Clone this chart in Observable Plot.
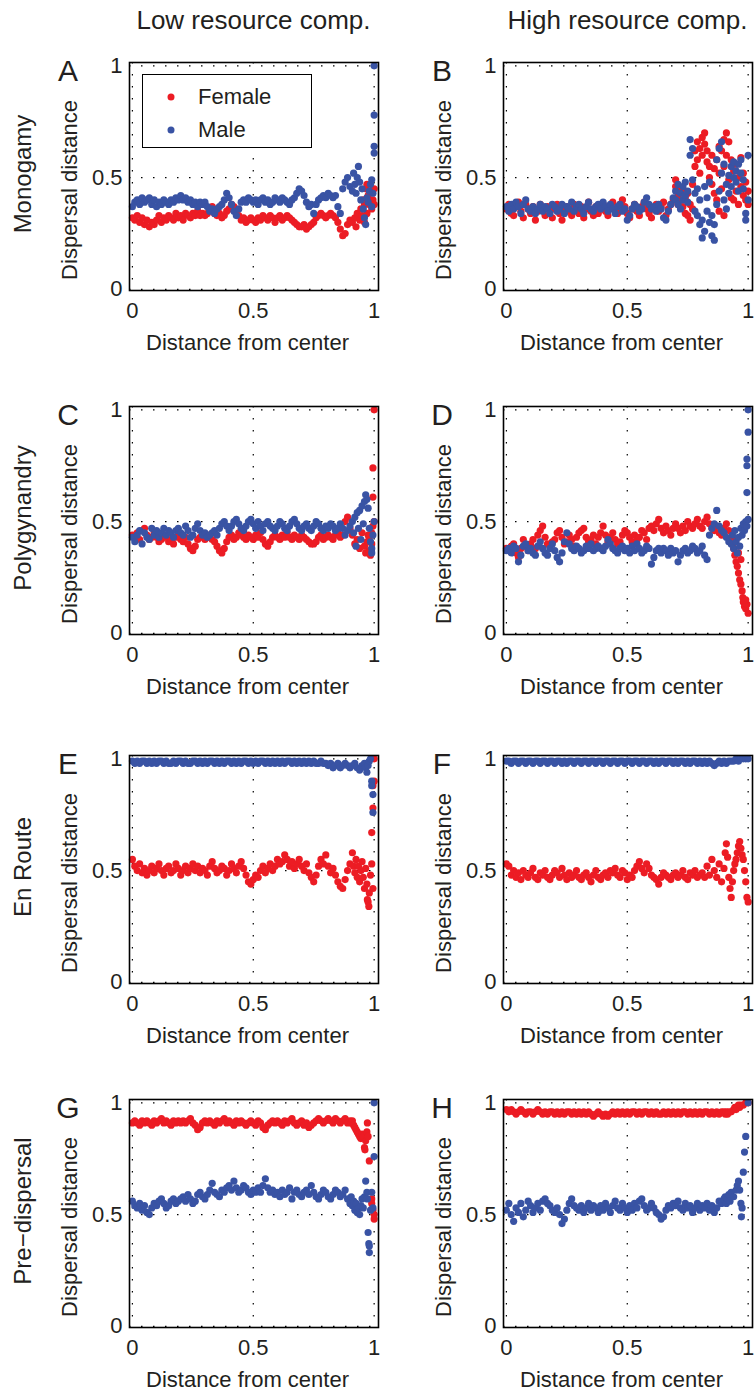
<!DOCTYPE html>
<html><head><meta charset="utf-8">
<script src="https://cdn.jsdelivr.net/npm/d3@7"></script>
<script src="https://cdn.jsdelivr.net/npm/@observablehq/plot@0.6"></script>
<style>
body{margin:0;background:#fff;}
#fig{position:relative;width:756px;height:1392px;overflow:hidden;font-family:"Liberation Sans",Arial,Helvetica,sans-serif;color:#231f20;background:#fff;}
.lbl{position:absolute;white-space:nowrap;line-height:1;transform:translate(-50%,-50%);}
.rot{transform:translate(-50%,-50%) rotate(-90deg);}
.legend{position:absolute;border:1px solid #000;background:#fff;box-sizing:border-box;}
.legend .dot{position:absolute;width:7px;height:7px;border-radius:50%;transform:translate(-50%,-50%);}
.legend .txt{position:absolute;font-size:22px;line-height:1;transform:translateY(-50%);}
</style></head><body><div id="fig"></div>
<script>
// ---------- DATA ----------
const colTitles = ["Low resource comp.", "High resource comp."];
const rowNames = ["Monogamy", "Polygynandry", "En Route", "Pre\u2212dispersal"];
const panelLetters = ["A","B","C","D","E","F","G","H"];
const seriesNames = ["Female", "Male"];
const xTicks = [0, 0.5, 1];
const yTicks = [0, 0.5, 1];
const xLabel = "Distance from center";
const yLabel = "Dispersal distance";

// distance from center for the dense part of each series
const distanceGrid = [0,0.01,0.02,0.03,0.04,0.05,0.06,0.07,0.08,0.09,
0.1,0.11,0.12,0.13,0.14,0.15,0.16,0.17,0.18,0.19,
0.2,0.21,0.22,0.23,0.24,0.25,0.26,0.27,0.28,0.29,
0.3,0.31,0.32,0.33,0.34,0.35,0.36,0.37,0.38,0.39,
0.4,0.41,0.42,0.43,0.44,0.45,0.46,0.47,0.48,0.49,
0.5,0.51,0.52,0.53,0.54,0.55,0.56,0.57,0.58,0.59,
0.6,0.61,0.62,0.63,0.64,0.65,0.66,0.67,0.68,0.69,
0.7,0.71,0.72,0.73,0.74,0.75,0.76,0.77,0.78,0.79,
0.8,0.81,0.82,0.83,0.84,0.85,0.86,0.87,0.88,0.89,0.9];

// dispersal distance (hundredths) on distanceGrid, plus [x, y] edge points
// A: Monogamy, low resource competition
const femaleA = [32,31,33,30,32,29,31,28,30,29, 31,33,30,32,31,33,32,31,34,32, 33,31,34,33,32,34,33,35,33,34, 33,34,36,37,34,33,34,32,33,35, 36,38,37,35,33,31,32,30,31,32, 31,30,32,31,33,32,31,33,32,30, 32,33,31,32,33,32,31,30,29,28, 28,29,27,28,29,30,32,33,34,33, 32,33,34,33,32,30,27,24,25,29, 31];
const maleA = [37,39,40,38,41,39,40,41,38,40, 37,39,38,40,39,38,40,39,41,40, 42,40,41,39,40,38,39,37,39,38, 39,37,35,36,34,36,37,38,40,43, 41,38,35,33,36,39,40,39,41,40, 39,40,38,40,41,39,40,38,39,41, 40,39,41,40,39,38,40,41,43,45, 44,42,39,37,38,34,38,40,41,42, 41,43,42,41,42,37,34,45,48,50, 46];
const femaleEdgeA = [[0.91,0.30],[0.92,0.32],[0.925,0.28],[0.93,0.34],[0.94,0.31],[0.945,0.36],[0.95,0.33],[0.955,0.40],[0.96,0.38],[0.965,0.45],[0.97,0.47],[0.975,0.42],[0.98,0.38],[0.985,0.44],[0.99,0.36],[0.995,0.40],[1.0,0.45],[1.0,0.38],[0.97,0.34],[0.96,0.30]];
const maleEdgeA = [[0.91,0.44],[0.915,0.52],[0.92,0.47],[0.925,0.43],[0.93,0.50],[0.935,0.55],[0.94,0.48],[0.945,0.40],[0.95,0.45],[0.955,0.36],[0.96,0.32],[0.965,0.29],[0.97,0.41],[0.975,0.39],[0.98,0.44],[0.985,0.47],[0.99,0.49],[0.995,0.43],[1.0,1.0],[1.0,0.78],[1.0,0.64],[1.0,0.61],[0.99,0.37]];

// B: Monogamy, high resource competition
const femaleB = [36,38,34,33,37,39,35,32,38,36, 34,37,31,35,38,36,33,37,35,32, 36,38,34,31,36,37,35,33,38,36, 34,37,32,36,39,35,33,37,34,36, 38,35,33,37,39,36,34,38,40,37, 34,32,36,38,35,33,37,39,36,34, 32,36,38,35,37,39,33,36,38,40];
const maleB = [37,35,38,36,39,37,34,38,40,36, 35,37,34,36,38,35,37,36,34,38, 37,35,36,38,34,37,36,39,35,37, 38,36,34,37,39,36,35,37,38,36, 39,37,35,38,36,34,37,38,35,36, 31,33,36,38,37,35,36,39,41,38, 36,37,35,38,36,32,31,35,38,41];
const femaleEdgeB = [[0.70,0.46],[0.70,0.49],[0.71,0.42],[0.71,0.38],[0.72,0.44],[0.72,0.40],[0.73,0.37],[0.73,0.45],[0.74,0.41],[0.74,0.34],[0.75,0.43],[0.75,0.33],[0.76,0.38],[0.76,0.31],[0.77,0.47],[0.77,0.36],[0.78,0.55],[0.78,0.62],[0.79,0.66],[0.79,0.58],[0.80,0.63],[0.80,0.52],[0.81,0.68],[0.81,0.60],[0.82,0.70],[0.82,0.65],[0.83,0.57],[0.83,0.62],[0.84,0.55],[0.84,0.50],[0.85,0.60],[0.85,0.47],[0.86,0.54],[0.86,0.43],[0.87,0.58],[0.87,0.40],[0.88,0.52],[0.88,0.64],[0.88,0.35],[0.89,0.62],[0.89,0.45],[0.90,0.67],[0.90,0.55],[0.90,0.33],[0.91,0.70],[0.91,0.60],[0.92,0.66],[0.92,0.49],[0.93,0.58],[0.93,0.41],[0.94,0.53],[0.94,0.40],[0.95,0.56],[0.95,0.44],[0.96,0.50],[0.96,0.38],[0.97,0.59],[0.97,0.46],[0.98,0.42],[0.98,0.52],[0.99,0.40],[0.99,0.48],[1.00,0.44],[1.00,0.38]];
const maleEdgeB = [[0.70,0.40],[0.70,0.44],[0.71,0.38],[0.71,0.47],[0.72,0.43],[0.72,0.36],[0.73,0.46],[0.73,0.40],[0.74,0.48],[0.74,0.42],[0.75,0.44],[0.75,0.39],[0.76,0.67],[0.76,0.60],[0.77,0.63],[0.77,0.49],[0.78,0.43],[0.78,0.35],[0.79,0.33],[0.79,0.45],[0.80,0.29],[0.80,0.40],[0.81,0.23],[0.81,0.31],[0.82,0.46],[0.82,0.26],[0.83,0.41],[0.83,0.35],[0.84,0.30],[0.84,0.48],[0.85,0.24],[0.85,0.33],[0.86,0.22],[0.86,0.29],[0.87,0.38],[0.87,0.58],[0.88,0.63],[0.88,0.44],[0.89,0.66],[0.89,0.52],[0.90,0.56],[0.90,0.40],[0.91,0.47],[0.91,0.36],[0.92,0.51],[0.92,0.43],[0.93,0.55],[0.93,0.46],[0.94,0.50],[0.94,0.57],[0.95,0.53],[0.95,0.48],[0.96,0.56],[0.96,0.44],[0.97,0.52],[0.97,0.58],[0.98,0.49],[0.98,0.45],[0.99,0.34],[0.99,0.31],[1.00,0.60],[1.00,0.40]];

// C: Polygynandry, low resource competition
const femaleC = [44,43,45,42,46,47,44,42,43,45, 43,41,42,44,43,41,42,40,43,44, 42,41,43,40,38,37,39,42,43,44, 42,43,44,42,41,39,37,36,38,41, 43,44,42,43,45,44,43,42,44,43, 42,44,43,45,42,40,39,41,43,44, 43,42,44,43,45,43,42,44,43,42, 44,43,42,41,40,40,41,43,44,42, 43,44,43,42,44,45,43,44,50,52, 47];
const maleC = [43,41,44,46,40,45,43,42,47,44, 46,43,45,47,44,46,45,43,46,47, 45,44,48,46,43,44,47,49,46,44, 45,43,44,45,46,44,47,49,50,48, 46,48,50,51,49,47,46,48,50,51, 49,47,50,48,46,49,50,48,47,46, 48,50,49,47,46,48,50,51,49,47, 46,48,49,47,46,48,50,49,47,46, 48,47,49,48,46,47,49,47,44,46, 48];
const femaleEdgeC = [[0.91,0.44],[0.92,0.40],[0.93,0.42],[0.94,0.38],[0.95,0.45],[0.96,0.39],[0.965,0.36],[0.97,0.41],[0.975,0.44],[0.98,0.37],[0.985,0.35],[0.99,0.40],[0.995,0.48],[1.0,1.0],[0.995,0.74],[0.995,0.61],[1.0,0.50],[0.99,0.45],[0.98,0.43]];
const maleEdgeC = [[0.91,0.50],[0.915,0.45],[0.92,0.52],[0.925,0.39],[0.93,0.54],[0.935,0.47],[0.94,0.55],[0.945,0.42],[0.95,0.57],[0.955,0.49],[0.96,0.59],[0.965,0.62],[0.97,0.60],[0.975,0.56],[0.98,0.47],[0.985,0.41],[0.99,0.38],[0.99,0.36],[0.995,0.44],[1.0,0.50]];

// D: Polygynandry, high resource competition
const femaleD = [38,37,39,40,36,34,38,42,39,37, 40,42,38,44,46,48,43,40,39,41, 42,45,46,43,40,41,44,42,39,43, 45,46,47,43,41,42,44,40,43,45, 48,44,41,43,45,42,40,41,44,46, 45,43,41,44,42,43,46,45,42,47, 48,46,49,51,47,45,48,46,44,47, 49,47,45,48,46,50,48,47,49,51, 48,47,50,52,49,47,46,48,45,44, 47];
const maleD = [37,38,36,39,38,32,35,39,40,37, 38,36,35,39,41,38,36,35,38,40, 37,34,32,36,41,45,40,38,37,39, 38,36,37,39,38,40,37,38,39,38, 37,39,42,40,38,37,36,38,39,37, 38,36,39,37,40,38,36,37,39,38, 31,34,37,38,36,38,37,35,38,36, 37,32,35,37,38,36,37,39,38,36, 37,39,35,33,44,47,49,55,48,46, 45];
const femaleEdgeD = [[0.91,0.49],[0.92,0.46],[0.93,0.43],[0.935,0.40],[0.94,0.38],[0.945,0.35],[0.95,0.32],[0.955,0.30],[0.96,0.27],[0.965,0.24],[0.97,0.22],[0.975,0.19],[0.978,0.16],[0.98,0.14],[0.985,0.12],[0.99,0.11],[0.995,0.13],[1.0,0.09],[0.99,0.15],[0.96,0.36],[0.95,0.42],[0.97,0.33]];
const maleEdgeD = [[0.91,0.43],[0.92,0.41],[0.93,0.40],[0.935,0.44],[0.94,0.38],[0.945,0.46],[0.95,0.41],[0.955,0.36],[0.96,0.43],[0.965,0.39],[0.97,0.47],[0.975,0.44],[0.98,0.49],[0.985,0.46],[0.99,0.50],[0.995,0.48],[1.0,1.0],[1.0,0.90],[0.995,0.78],[0.995,0.75],[0.995,0.63],[1.0,0.51]];

// E: En Route, low resource competition
const femaleE = [55,52,50,53,49,51,48,50,52,49, 51,53,50,48,51,52,49,50,53,51, 48,50,52,49,51,53,50,52,49,51, 50,48,52,54,51,49,50,52,51,48, 50,53,51,49,52,54,51,48,45,44, 46,48,47,50,52,49,51,53,50,52, 55,53,54,57,55,52,54,51,53,55, 52,50,53,49,47,45,48,52,55,53, 57,52,49,51,48,45,43,42,46,50, 53];
const maleE = [99,98,99,98,99,99,98,99,98,99, 98,99,99,98,99,98,98,99,98,99, 99,98,99,98,98,99,99,98,99,98, 99,98,99,99,98,99,98,99,98,99, 99,98,99,98,99,98,99,99,98,99, 98,99,98,99,99,98,99,98,99,98, 99,98,99,98,99,99,98,99,98,99, 98,99,98,99,98,99,98,98,99,98, 98,97,98,96,97,98,96,97,98,97, 96];
const femaleEdgeE = [[0.91,0.58],[0.915,0.52],[0.92,0.49],[0.925,0.55],[0.93,0.47],[0.935,0.52],[0.94,0.45],[0.945,0.50],[0.95,0.54],[0.955,0.47],[0.96,0.42],[0.965,0.51],[0.97,0.44],[0.972,0.37],[0.975,0.36],[0.978,0.34],[0.98,0.40],[0.985,0.48],[0.99,0.53],[0.995,0.42],[1.0,1.0],[1.0,0.90],[0.995,0.88],[0.995,0.78],[0.99,0.67]];
const maleEdgeE = [[0.91,0.97],[0.92,0.98],[0.93,0.96],[0.94,0.95],[0.95,0.97],[0.96,0.98],[0.965,0.96],[0.97,0.94],[0.975,0.97],[0.98,0.99],[0.985,1.0],[0.99,0.90],[0.99,0.88],[0.995,0.84],[0.995,0.76]];

// F: En Route, high resource competition
const femaleF = [53,52,48,50,47,49,46,50,48,47, 49,51,47,46,49,48,50,47,46,48, 50,49,47,51,48,46,49,47,48,50, 47,46,48,49,47,45,48,50,47,46, 48,49,47,50,49,51,48,47,50,49, 46,48,47,50,52,54,51,49,53,51, 48,47,46,44,47,49,48,47,46,48, 49,47,48,50,47,46,49,48,50,47, 48,49,47,52,48,55,50,47,53,45, 51];
const maleF = [99,99,98,99,99,98,99,99,98,99, 99,98,99,99,98,99,99,98,99,99, 98,99,99,98,99,98,99,99,98,99, 99,98,99,99,98,99,99,98,99,99, 98,99,99,98,99,99,98,99,99,98, 99,99,98,99,99,98,99,99,98,99, 99,98,99,98,99,99,98,99,99,98, 99,98,99,99,98,99,98,99,99,98, 99,98,99,98,99,98,97,98,99,98, 99];
const femaleEdgeF = [[0.905,0.58],[0.91,0.62],[0.915,0.56],[0.92,0.47],[0.925,0.42],[0.93,0.38],[0.935,0.45],[0.94,0.50],[0.945,0.53],[0.95,0.55],[0.955,0.58],[0.96,0.61],[0.965,0.63],[0.97,0.60],[0.975,0.57],[0.98,0.55],[0.985,0.50],[0.99,0.45],[0.995,0.38],[1.0,0.36]];
const maleEdgeF = [[0.91,0.98],[0.92,0.99],[0.93,0.99],[0.94,0.99],[0.95,1.0],[0.96,0.99],[0.97,1.0],[0.98,1.0],[0.99,1.0],[1.0,1.0]];

// G: Pre-dispersal, low resource competition
const femaleG = [91,92,91,90,92,91,92,91,90,92, 91,92,93,91,92,91,90,92,91,92, 91,92,91,92,93,91,90,88,89,91, 92,91,92,91,90,92,91,92,93,91, 92,91,90,92,91,92,91,90,91,92, 91,90,92,91,89,88,90,91,92,91, 92,91,90,92,91,92,93,91,90,91, 92,90,91,89,90,91,92,93,92,91, 92,93,92,91,93,92,91,92,93,91, 92];
const maleG = [56,54,53,55,52,54,51,50,53,55, 54,56,57,55,53,54,56,57,55,56, 57,58,56,59,57,55,56,59,60,58, 57,59,61,64,60,59,58,61,60,62, 63,61,65,62,60,61,63,62,60,59, 61,60,62,60,63,66,62,60,61,59, 60,58,61,59,60,62,57,60,61,59, 58,60,61,59,63,60,58,57,59,61, 60,58,57,59,61,60,58,59,61,57, 55];
const femaleEdgeG = [[0.905,0.91],[0.91,0.92],[0.915,0.90],[0.92,0.89],[0.925,0.88],[0.93,0.87],[0.935,0.86],[0.94,0.85],[0.945,0.84],[0.95,0.86],[0.955,0.85],[0.96,0.80],[0.962,0.79],[0.965,0.83],[0.97,0.87],[0.972,0.91],[0.975,0.85],[0.98,0.74],[0.99,0.57],[0.99,0.55],[0.995,0.52],[1.0,0.50],[1.0,0.48]];
const maleEdgeG = [[0.905,0.58],[0.91,0.54],[0.915,0.56],[0.92,0.52],[0.925,0.55],[0.93,0.51],[0.935,0.53],[0.94,0.50],[0.945,0.54],[0.95,0.57],[0.955,0.53],[0.96,0.58],[0.965,0.65],[0.97,0.60],[0.972,0.57],[0.975,0.42],[0.978,0.37],[0.98,0.36],[0.98,0.33],[0.985,0.52],[0.99,0.60],[1.0,1.0],[1.0,0.76],[0.995,0.53]];

// H: Pre-dispersal, high resource competition
const femaleH = [97,96,97,96,95,96,97,96,95,96, 96,95,96,97,96,95,96,95,96,96, 95,96,95,96,95,96,96,95,96,95, 96,95,96,95,96,95,94,95,96,95, 94,95,94,95,96,95,96,95,96,95, 96,95,96,96,95,96,95,96,96,95, 96,95,96,95,95,96,95,96,95,96, 95,96,95,96,96,95,96,95,96,95, 96,95,96,96,95,96,95,96,95,96, 96];
const maleH = [52,55,50,47,53,51,55,49,52,56, 54,51,53,55,52,56,57,55,54,52, 51,53,50,46,48,52,55,57,54,53, 52,54,51,53,55,52,54,53,51,54, 52,55,53,51,54,56,53,52,55,53, 51,54,52,55,53,56,57,54,52,53, 55,53,51,50,48,49,52,54,53,55, 54,56,53,52,55,53,54,51,53,55, 52,54,53,55,52,54,51,53,56,55, 57];
const femaleEdgeH = [[0.905,0.95],[0.91,0.96],[0.915,0.95],[0.92,0.96],[0.93,0.96],[0.94,0.97],[0.945,0.98],[0.95,0.97],[0.955,0.98],[0.96,0.99],[0.965,0.98],[0.97,0.99],[0.98,0.99],[0.99,1.0],[1.0,1.0]];
const maleEdgeH = [[0.905,0.58],[0.91,0.55],[0.915,0.57],[0.92,0.59],[0.925,0.56],[0.93,0.60],[0.94,0.58],[0.95,0.61],[0.955,0.63],[0.96,0.65],[0.965,0.61],[0.97,0.55],[0.972,0.49],[0.975,0.53],[0.98,0.69],[0.985,0.78],[0.99,0.85],[1.0,1.0]];

// ---------- BUILD ----------
const RED = "#ec1c24", BLUE = "#3953a4", INK = "#231f20";
const FONT = '"Liberation Sans", Arial, Helvetica, sans-serif';
const panels = [
  {row:0,col:0,f:femaleA,m:maleA,fe:femaleEdgeA,me:maleEdgeA,legend:true},
  {row:0,col:1,f:femaleB,m:maleB,fe:femaleEdgeB,me:maleEdgeB},
  {row:1,col:0,f:femaleC,m:maleC,fe:femaleEdgeC,me:maleEdgeC},
  {row:1,col:1,f:femaleD,m:maleD,fe:femaleEdgeD,me:maleEdgeD},
  {row:2,col:0,f:femaleE,m:maleE,fe:femaleEdgeE,me:maleEdgeE},
  {row:2,col:1,f:femaleF,m:maleF,fe:femaleEdgeF,me:maleEdgeF},
  {row:3,col:0,f:femaleG,m:maleG,fe:femaleEdgeG,me:maleEdgeG},
  {row:3,col:1,f:femaleH,m:maleH,fe:femaleEdgeH,me:maleEdgeH}
];
const cols = [{svgLeft:0,width:385,ml:129,mr:7},{svgLeft:380,width:376,ml:123,mr:4}];
const rowTops = [62,406,755,1099];
const FH = 228, MT = 10, MB = 44;

function toPoints(body, edge){
  return body.map((v,i)=>({x:distanceGrid[i], y:v/100})).concat(edge.map(([x,y])=>({x,y})));
}
const fig = document.getElementById("fig");
function addLabel(text, cx, cy, size, rotate){
  const d = document.createElement("div");
  d.className = "lbl" + (rotate ? " rot" : "");
  d.textContent = text;
  d.style.left = cx + "px"; d.style.top = cy + "px"; d.style.fontSize = size + "px";
  fig.appendChild(d);
}

panels.forEach((p, k) => {
  const c = cols[p.col], T = rowTops[p.row];
  const chart = Plot.plot({
    width: c.width, height: MT + FH + MB,
    marginLeft: c.ml, marginRight: c.mr, marginTop: MT, marginBottom: MB,
    style: {fontFamily: FONT, fontSize: "22px", color: INK, background: "white", overflow: "visible"},
    x: {domain: [-0.012, 1.018], ticks: xTicks, tickSize: 0, tickPadding: 12, tickFormat: d => String(d), label: null},
    y: {domain: [-0.005, 1.015], ticks: yTicks, tickSize: 0, tickPadding: 7, tickFormat: d => String(d), label: null},
    marks: [
      Plot.gridX(xTicks, {stroke: "#000", strokeOpacity: 1, strokeWidth: 1.2, strokeDasharray: "1.5,10.5"}),
      Plot.gridY(yTicks, {stroke: "#000", strokeOpacity: 1, strokeWidth: 1.2, strokeDasharray: "1.5,10.5"}),
      Plot.dot(toPoints(p.f, p.fe), {x: "x", y: "y", r: 3.6, fill: RED}),
      Plot.dot(toPoints(p.m, p.me), {x: "x", y: "y", r: 3.6, fill: BLUE}),
      Plot.frame({stroke: "#000", strokeWidth: 1.6})
    ]
  });
  chart.style.position = "absolute";
  chart.style.left = c.svgLeft + "px";
  chart.style.top = (T - MT) + "px";
  fig.appendChild(chart);

  const frameLeft = c.svgLeft + c.ml;
  const frameRight = c.svgLeft + c.width - c.mr;
  const fc = (frameLeft + frameRight) / 2;
  addLabel(panelLetters[k], frameLeft - 61, T + 9, 30, false);
  addLabel(yLabel, frameLeft - 59, T + 128, 22, true);
  addLabel(xLabel, fc - 6, T + FH + 53, 22, false);
  if (p.legend) {
    const lg = document.createElement("div");
    lg.className = "legend";
    lg.style.left = (frameLeft + 13) + "px"; lg.style.top = (T + 12) + "px";
    lg.style.width = "170px"; lg.style.height = "74px";
    [[RED, 22], [BLUE, 55]].forEach(([col, yy], i) => {
      const dt = document.createElement("div"); dt.className = "dot";
      dt.style.background = col; dt.style.left = "28px"; dt.style.top = yy + "px";
      lg.appendChild(dt);
      const tx = document.createElement("div"); tx.className = "txt";
      tx.textContent = seriesNames[i]; tx.style.left = "55px"; tx.style.top = yy + "px";
      lg.appendChild(tx);
    });
    fig.appendChild(lg);
  }
});
colTitles.forEach((t, i) => {
  const c = cols[i];
  addLabel(t, c.svgLeft + c.ml + (c.width - c.ml - c.mr) / 2, 20, 26, false);
});
rowNames.forEach((t, i) => addLabel(t, 23, rowTops[i] + 112, 24, true));
</script></body></html>
